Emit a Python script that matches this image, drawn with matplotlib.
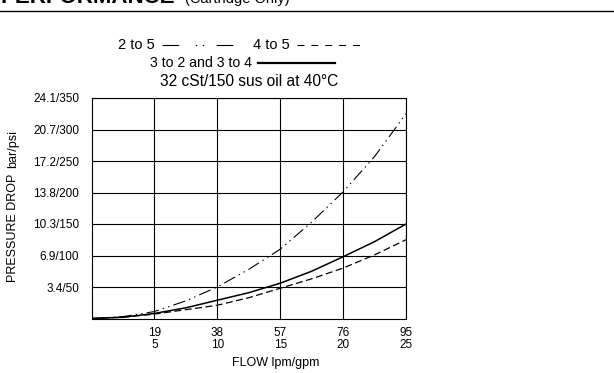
import matplotlib
matplotlib.use("Agg")
import matplotlib.pyplot as plt
from matplotlib.lines import Line2D

plt.rcParams['font.family'] = ['Liberation Sans', 'DejaVu Sans']
plt.rcParams['lines.scale_dashes'] = False

# ----------------------------------------------------------------------------------
# Data (flow in lpm, pressure drop in psi)
# ----------------------------------------------------------------------------------
flow_lpm = [0, 9.5, 19, 28.5, 38, 47.5, 57, 66.5, 76, 85.5, 95]
drop_2_to_5 = [0, 3, 11, 28, 50, 78, 110, 153, 201, 257, 325]
drop_3_to_2_and_3_to_4 = [0, 2, 8, 17, 29, 41, 56, 75, 98, 122, 150]
drop_4_to_5 = [0, 2, 7, 14, 21, 33, 48, 63, 80, 101, 125]

x_ticks = [19, 38, 57, 76, 95]
x_tick_labels = ['19\n5', '38\n10', '57\n15', '76\n20', '95\n25']
y_ticks = [50, 100, 150, 200, 250, 300, 350]
y_tick_labels = ['3.4/50', '6.9/100', '10.3/150', '13.8/200', '17.2/250', '20.7/300', '24.1/350']

W, H = 614, 373
DASHDOTDOT = (0, (9, 3, 1, 3, 1, 3))
DASHED = (0, (5, 2.5))


def px(x, y):
    # pixel position (from top-left) -> figure fraction
    return x / W, 1 - y / H


fig = plt.figure(figsize=(W / 100, H / 100), dpi=100)

# Cut-off section header and rule (cut off in the source too)
fig.text(*px(0, 3), 'PERFORMANCE', fontsize=16, fontweight='bold', ha='left', va='baseline')
fig.text(*px(185, 3), '(Cartridge Only)', fontsize=10.5, ha='left', va='baseline')
fig.add_artist(Line2D([0, 1], [1 - 11 / H] * 2, color='black', lw=1.0))

# Legend-like header text
fig.text(*px(118, 45), '2 to 5', fontsize=10.5, va='center')
fig.add_artist(Line2D([162 / W, 238 / W], [1 - 45 / H] * 2, color='black', lw=0.8,
                      linestyle=(0, (12, 12, 1, 4, 1, 9))))
fig.text(*px(253, 45), '4 to 5', fontsize=10.5, va='center')
fig.add_artist(Line2D([297 / W, 366 / W], [1 - 45 / H] * 2, color='black', lw=0.8,
                      linestyle=(0, (5, 5))))
fig.text(*px(150, 63), '3 to 2 and 3 to 4', fontsize=10.2, va='center')
fig.add_artist(Line2D([258 / W, 335 / W], [1 - 63 / H] * 2, color='black', lw=1.6))
fig.text(*px(160, 81), '32 cSt/150 sus oil at 40°C', fontsize=11.2, va='center')

# ----------------------------------------------------------------------------------
# Main plot
# ----------------------------------------------------------------------------------
left, right, top, bottom = 91.5, 406, 98, 318.5
ax = fig.add_axes([left / W, (H - bottom) / H, (right - left) / W, (bottom - top) / H])

ax.plot(flow_lpm, drop_2_to_5, color='black', lw=0.8, linestyle=DASHDOTDOT)
ax.plot(flow_lpm, drop_3_to_2_and_3_to_4, color='black', lw=1.1)
ax.plot(flow_lpm, drop_4_to_5, color='black', lw=0.9, linestyle=DASHED)

ax.set_xlim(0, 95)
ax.set_ylim(0, 350)
ax.set_xticks(x_ticks)
ax.set_xticklabels(x_tick_labels, fontsize=8.5, linespacing=1.0)
ax.set_yticks(y_ticks)
ax.set_yticklabels(y_tick_labels, fontsize=8.5)
ax.tick_params(axis='y', length=0, pad=9)
ax.tick_params(axis='x', length=0, pad=6)
ax.grid(True, color='black', lw=0.8)
for s in ax.spines.values():
    s.set_linewidth(0.8)

fig.text(*px(276, 363), 'FLOW lpm/gpm', fontsize=9, ha='center', va='center')
fig.text(*px(13, 282), 'PRESSURE DROP', fontsize=9, rotation=90, ha='center', va='bottom')
fig.text(*px(13, 168), 'bar/psi', fontsize=9, rotation=90, ha='center', va='bottom')

fig.savefig('out.png', dpi=100)
